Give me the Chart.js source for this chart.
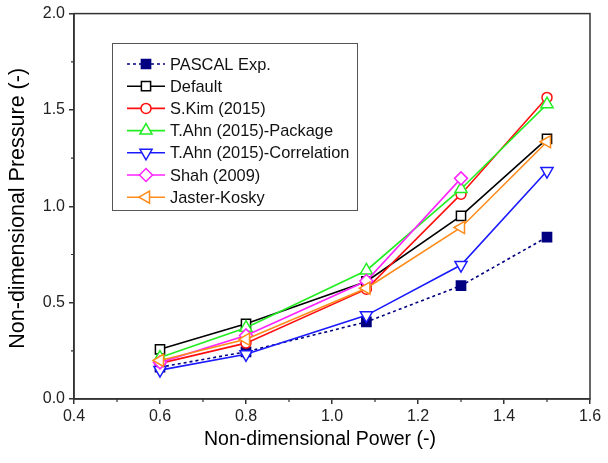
<!DOCTYPE html>
<html><head><meta charset="utf-8">
<script src="https://cdn.jsdelivr.net/npm/chart.js@4.4.0/dist/chart.umd.min.js"></script>
<style>html,body{margin:0;padding:0;background:#fff;}</style>
</head><body>
<canvas id="c" width="608" height="463"></canvas>
<script>
// ---- data ----
const powerX = [0.6, 0.8, 1.08, 1.3, 1.5];
const pascalExp = [0.165, 0.245, 0.40, 0.588, 0.84];
const defaultModel = [0.258, 0.39, 0.61, 0.95, 1.35];
const sKim2015 = [0.185, 0.29, 0.57, 1.063, 1.565];
const tAhnPackage = [0.215, 0.37, 0.667, 1.09, 1.53];
const tAhnCorrelation = [0.15, 0.232, 0.434, 0.695, 1.183];
const shah2009 = [0.19, 0.33, 0.612, 1.145, null];
const jasterKosky = [0.2, 0.31, 0.575, 0.89, 1.335];
const xTicks = [0.4, 0.6, 0.8, 1.0, 1.2, 1.4, 1.6];
const yTicks = [0.0, 0.5, 1.0, 1.5, 2.0];
const seriesLabels = ['PASCAL Exp.', 'Default', 'S.Kim (2015)', 'T.Ahn (2015)-Package', 'T.Ahn (2015)-Correlation', 'Shah (2009)', 'Jaster-Kosky'];
const xTitle = 'Non-dimensional Power (-)';
const yTitle = 'Non-dimensional Pressure (-)';

const FONT = "'Liberation Sans', Arial, sans-serif";
const toPts = arr => powerX.map((x, i) => ({x: x, y: arr[i]}));

const styles = [
  {color: '#000080', fill: '#000080', pointStyle: 'rect', radius: 6.5, rotation: 0, dash: [3, 3]},
  {color: '#000000', fill: '#ffffff', pointStyle: 'rect', radius: 6.5, rotation: 0, dash: []},
  {color: '#ff1010', fill: '#ffffff', pointStyle: 'circle', radius: 5, rotation: 0, dash: []},
  {color: '#22ee22', fill: '#ffffff', pointStyle: 'triangle', radius: 7, rotation: 0, dash: []},
  {color: '#1a1aff', fill: '#ffffff', pointStyle: 'triangle', radius: 7, rotation: 180, dash: []},
  {color: '#ff22ff', fill: '#ffffff', pointStyle: 'rectRot', radius: 6.5, rotation: 0, dash: []},
  {color: '#ff8c1a', fill: '#ffffff', pointStyle: 'triangle', radius: 7, rotation: -90, dash: []}
];
const seriesData = [pascalExp, defaultModel, sKim2015, tAhnPackage, tAhnCorrelation, shah2009, jasterKosky];

const datasets = seriesData.map((arr, i) => ({
  label: seriesLabels[i],
  data: toPts(arr),
  borderColor: styles[i].color,
  backgroundColor: styles[i].fill,
  borderWidth: 1.6,
  borderDash: styles[i].dash,
  pointStyle: styles[i].pointStyle,
  pointRadius: styles[i].radius,
  pointRotation: styles[i].rotation,
  pointBorderColor: styles[i].color,
  pointBackgroundColor: styles[i].fill,
  pointBorderWidth: 1.5,
  tension: 0,
  spanGaps: false,
  order: seriesData.length - i
}));

const framePlugin = {
  id: 'frame',
  afterDraw(chart) {
    const {ctx, chartArea: a, scales} = chart;
    ctx.save();
    ctx.strokeStyle = '#333';
    ctx.lineWidth = 1.5;
    ctx.strokeRect(a.left, a.top, a.right - a.left, a.bottom - a.top);
    ctx.lineWidth = 1.2;
    ctx.beginPath();
    for (let k = 0; k < xTicks.length - 1; k++) {
      const v = (xTicks[k] + xTicks[k + 1]) / 2;
      const px = scales.x.getPixelForValue(v);
      ctx.moveTo(px, a.bottom); ctx.lineTo(px, a.bottom + 3);
    }
    for (let k = 0; k < yTicks.length - 1; k++) {
      const v = (yTicks[k] + yTicks[k + 1]) / 2;
      const py = scales.y.getPixelForValue(v);
      ctx.moveTo(a.left, py); ctx.lineTo(a.left - 3, py);
    }
    ctx.stroke();
    // axis titles
    ctx.fillStyle = '#000';
    ctx.textAlign = 'center';
    ctx.textBaseline = 'middle';
    ctx.font = '19.5px ' + FONT;
    ctx.fillText(xTitle, 320, 440);
    ctx.save();
    ctx.translate(18, (a.top + a.bottom) / 2 + 2);
    ctx.rotate(-Math.PI / 2);
    ctx.font = '21.5px ' + FONT;
    ctx.fillText(yTitle, 0, 0);
    ctx.restore();
    ctx.restore();
  }
};

const legendPlugin = {
  id: 'innerLegend',
  afterDraw(chart) {
    const ctx = chart.ctx;
    const box = {l: 112, t: 43, r: 357, b: 210};
    ctx.save();
    ctx.strokeStyle = '#555';
    ctx.lineWidth = 1;
    ctx.strokeRect(box.l + 0.5, box.t + 0.5, box.r - box.l, box.b - box.t);
    const y0 = 64, dy = 22.2;
    chart.data.datasets.forEach((ds, i) => {
      const y = y0 + i * dy;
      ctx.save();
      ctx.strokeStyle = ds.borderColor;
      ctx.lineWidth = 1.6;
      ctx.setLineDash(ds.borderDash || []);
      ctx.beginPath();
      ctx.moveTo(127, y); ctx.lineTo(165, y);
      ctx.stroke();
      ctx.setLineDash([]);
      ctx.fillStyle = ds.pointBackgroundColor;
      ctx.strokeStyle = ds.pointBorderColor;
      ctx.lineWidth = 1.5;
      Chart.helpers.drawPoint(ctx, {pointStyle: ds.pointStyle, radius: ds.pointRadius, rotation: ds.pointRotation, borderWidth: 1.5}, 146, y);
      ctx.restore();
      ctx.fillStyle = '#111';
      ctx.font = '16.4px ' + FONT;
      ctx.textBaseline = 'middle';
      ctx.textAlign = 'left';
      ctx.fillText(ds.label, 170, y + 1);
    });
    ctx.restore();
  }
};

new Chart(document.getElementById('c'), {
  type: 'line',
  data: {datasets},
  plugins: [framePlugin, legendPlugin],
  options: {
    responsive: false,
    animation: false,
    events: [],
    layout: {padding: {top: 13, right: 18, left: 0, bottom: 0}},
    plugins: {legend: {display: false}, tooltip: {enabled: false}},
    scales: {
      x: {
        type: 'linear', min: xTicks[0], max: xTicks[xTicks.length - 1],
        afterBuildTicks: s => { s.ticks = xTicks.map(v => ({value: v})); },
        afterFit: s => { s.height = 64; },
        ticks: {callback: v => Number(v).toFixed(1), font: {family: FONT, size: 16}, color: '#222', padding: 3, maxRotation: 0},
        grid: {drawOnChartArea: false, drawTicks: true, tickLength: 5, color: '#333', lineWidth: 1.5},
        border: {display: true, color: '#333', width: 1.5},
        title: {display: false}
      },
      y: {
        type: 'linear', min: yTicks[0], max: yTicks[yTicks.length - 1],
        afterBuildTicks: s => { s.ticks = yTicks.map(v => ({value: v})); },
        afterFit: s => { s.width = 74; },
        ticks: {callback: v => Number(v).toFixed(1), font: {family: FONT, size: 16}, color: '#222', padding: 4},
        grid: {drawOnChartArea: false, drawTicks: true, tickLength: 5, color: '#333', lineWidth: 1.5},
        border: {display: true, color: '#333', width: 1.5},
        title: {display: false}
      }
    }
  }
});
</script>
</body></html>
